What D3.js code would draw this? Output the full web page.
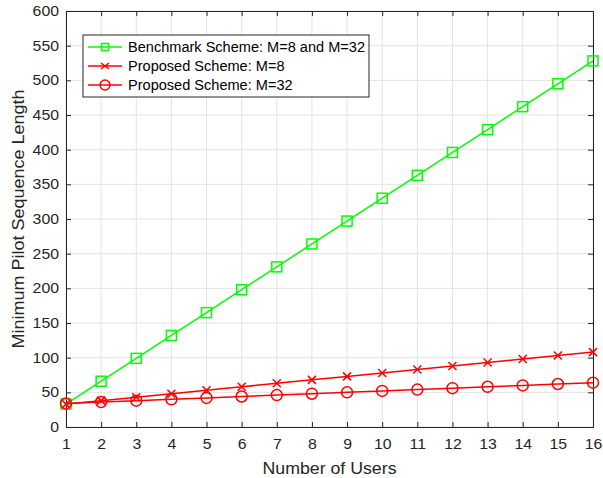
<!DOCTYPE html>
<html><head><meta charset="utf-8">
<script src="https://cdn.jsdelivr.net/npm/d3@7"></script>
<style>body{margin:0;background:#fff;} svg{display:block;font-family:"Liberation Sans",Arial,sans-serif;}</style>
</head><body>
<svg id="c" width="603" height="478"></svg>
<script>
const users = [1,2,3,4,5,6,7,8,9,10,11,12,13,14,15,16];
const benchmark = [33,66,99,132,165,198,231,264,297,330,363,396,429,462,495,528];
const propM8 = [33,38,43,48,53,58,63,68,73,78,83,88,93,98,103,108];
const propM32 = [34,36,38,40,42,44,46,48,50,52,54,56,58,60,62,64];
const xTicks = users;
const yTicks = [0,50,100,150,200,250,300,350,400,450,500,550,600];
const legendLabels = ["Benchmark Scheme: M=8 and M=32","Proposed Scheme: M=8","Proposed Scheme: M=32"];

const svg = d3.select("#c");
const L=66, R=593, T=11, B=427;
const x = d3.scaleLinear().domain([1,16]).range([L,R]);
const y = d3.scaleLinear().domain([0,600]).range([B,T]);
const axisCol = "#262626";

function stretch(sel, factor){
  sel.each(function(){
    const len = this.getComputedTextLength();
    d3.select(this).attr("textLength", len*factor).attr("lengthAdjust","spacingAndGlyphs");
  });
}

// grid
svg.append("g").selectAll("line").data(xTicks).join("line")
  .attr("x1",d=>x(d)).attr("x2",d=>x(d)).attr("y1",T).attr("y2",B)
  .attr("stroke","#e3e3e3").attr("stroke-width",1);
svg.append("g").selectAll("line").data(yTicks).join("line")
  .attr("y1",d=>y(d)).attr("y2",d=>y(d)).attr("x1",L).attr("x2",R)
  .attr("stroke","#e3e3e3").attr("stroke-width",1);

// axes
const ax = svg.append("g").attr("transform",`translate(0,${B})`)
  .call(d3.axisBottom(x).tickValues(xTicks).tickSize(-5).tickPadding(12).tickFormat(d3.format("d")));
const axT = svg.append("g").attr("transform",`translate(0,${T})`)
  .call(d3.axisTop(x).tickValues(xTicks).tickSize(-5).tickFormat(""));
const ay = svg.append("g").attr("transform",`translate(${L},0)`)
  .call(d3.axisLeft(y).tickValues(yTicks).tickSize(-5).tickPadding(7));
const ayR = svg.append("g").attr("transform",`translate(${R},0)`)
  .call(d3.axisRight(y).tickValues(yTicks).tickSize(-5).tickFormat(""));
[ax,axT,ay,ayR].forEach(g=>{
  g.selectAll("path").attr("stroke",axisCol).attr("stroke-width",1);
  g.selectAll("line").attr("stroke",axisCol);
  g.selectAll("text").attr("fill",axisCol).style("font-size","14px").style("font-family","Liberation Sans, Arial, sans-serif");
});
stretch(ax.selectAll("text"),1.13);
stretch(ay.selectAll("text"),1.13);

// labels
const xl = svg.append("text").attr("x",(L+R)/2).attr("y",474).attr("text-anchor","middle")
  .attr("fill",axisCol).style("font-size","16px").text("Number of Users");
xl.attr("textLength",134).attr("lengthAdjust","spacingAndGlyphs");
const yl = svg.append("text").attr("transform",`translate(24,${(T+B)/2}) rotate(-90)`).attr("text-anchor","middle")
  .attr("fill",axisCol).style("font-size","16px").text("Minimum Pilot Sequence Length");
yl.attr("textLength",259).attr("lengthAdjust","spacingAndGlyphs");

const line = d3.line().x(d=>x(d[0])).y(d=>y(d[1]));
const series = [
  {vals:benchmark,color:"#00ff00",marker:"square"},
  {vals:propM8,color:"#ff0000",marker:"x"},
  {vals:propM32,color:"#ff0000",marker:"circle"}
];
function drawMarker(g,type,cx,cy,color){
  if(type==="square") g.append("rect").attr("x",cx-5).attr("y",cy-5).attr("width",10).attr("height",10).attr("fill","none").attr("stroke",color).attr("stroke-width",1.5);
  else if(type==="circle") g.append("circle").attr("cx",cx).attr("cy",cy).attr("r",5.5).attr("fill","none").attr("stroke",color).attr("stroke-width",1.5);
  else { g.append("path").attr("d",`M${cx-4},${cy-4}L${cx+4},${cy+4}M${cx-4},${cy+4}L${cx+4},${cy-4}`).attr("stroke",color).attr("stroke-width",1.5); }
}
series.forEach(s=>{
  const data = users.map((u,i)=>[u,s.vals[i]]);
  svg.append("path").datum(data).attr("d",line).attr("fill","none").attr("stroke",s.color).attr("stroke-width",1.5);
  const g = svg.append("g");
  data.forEach(d=>drawMarker(g,s.marker,x(d[0]),y(d[1]),s.color));
});

// legend
const lg = svg.append("g");
lg.append("rect").attr("x",83).attr("y",35).attr("width",286).attr("height",62).attr("fill","#fff").attr("stroke",axisCol).attr("stroke-width",1);
const texts = [];
legendLabels.forEach((lab,i)=>{
  const cy = 47 + i*19;
  const s = series[i];
  lg.append("line").attr("x1",88).attr("x2",122).attr("y1",cy).attr("y2",cy).attr("stroke",s.color).attr("stroke-width",1.5);
  const mg = lg.append("g");
  if(s.marker==="square") mg.append("rect").attr("x",105-3.5).attr("y",cy-3.5).attr("width",7).attr("height",7).attr("fill","none").attr("stroke",s.color).attr("stroke-width",1.5);
  else if(s.marker==="circle") mg.append("circle").attr("cx",105).attr("cy",cy).attr("r",5).attr("fill","none").attr("stroke",s.color).attr("stroke-width",1.5);
  else mg.append("path").attr("d",`M101,${cy-3}L109,${cy+3}M101,${cy+3}L109,${cy-3}`).attr("stroke",s.color).attr("stroke-width",1.5);
  texts.push(lg.append("text").attr("x",128).attr("y",cy+5).attr("fill","#000").style("font-size","14px").text(lab));
});
const f = 237 / texts[0].node().getComputedTextLength();
texts.forEach(t=>stretch(t,f));
</script>
</body></html>
